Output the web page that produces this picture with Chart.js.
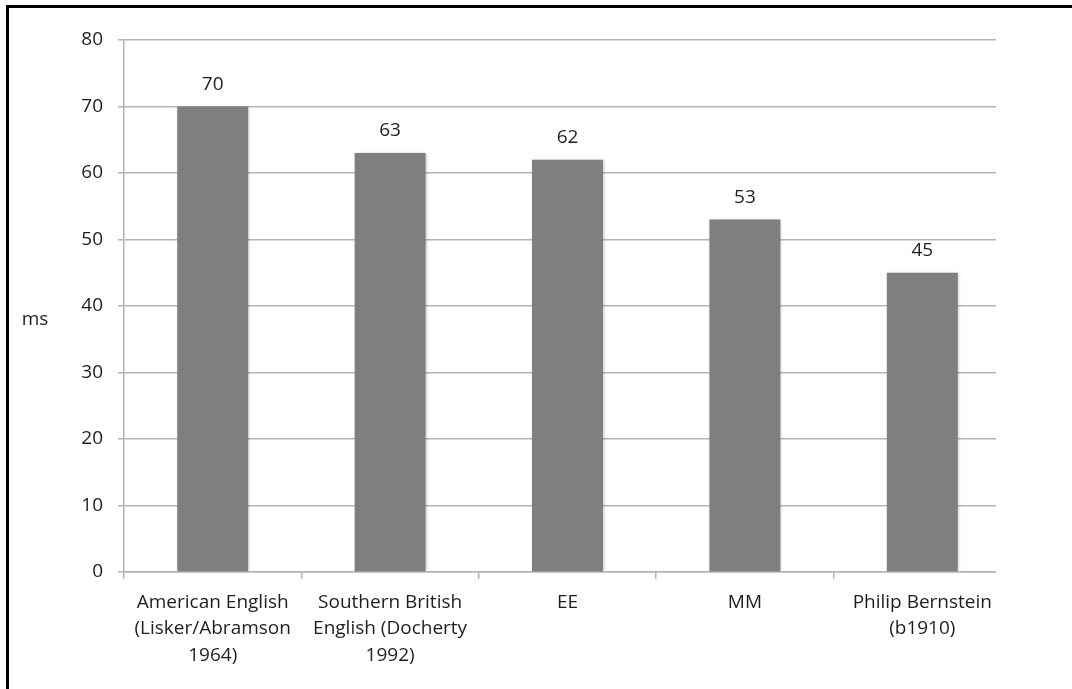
<!DOCTYPE html>
<html>
<head>
<meta charset="utf-8">
<script src="https://cdn.jsdelivr.net/npm/chart.js@4.4.1/dist/chart.umd.min.js"></script>
<style>
  html, body { margin: 0; padding: 0; background: #fff; overflow: hidden; }
  #frame {
    position: absolute; left: 6px; top: 5px; width: 2000px; height: 2000px;
    border-left: 3px solid #000; border-top: 3px solid #000;
  }
  #wrap { position: absolute; left: 0; top: 0; width: 1072px; height: 689px; }
</style>
</head>
<body>
<div id="frame"></div>
<div id="wrap"><canvas id="chart" width="1072" height="689"></canvas></div>
<script>
// chart data
const categories = [
  ['American English', '(Lisker/Abramson', '1964)'],
  ['Southern British', 'English (Docherty', '1992)'],
  ['EE'],
  ['MM'],
  ['Philip Bernstein', '(b1910)']
];
const durations = [70, 63, 62, 53, 45];
const yTicks = [0, 10, 20, 30, 40, 50, 60, 70, 80];

const FONT = "'Open Sans', sans-serif";
const textColor = '#1e1e1e';
const gridColor = '#b4b4b4';

// the original plot lines stop short of the last category edge
const trimRight = {
  id: 'trimRight',
  beforeDatasetsDraw(chart) {
    const a = chart.chartArea;
    const ctx = chart.ctx;
    ctx.save();
    ctx.fillStyle = '#fff';
    ctx.fillRect(996, a.top - 2, a.right - 996 + 4, a.bottom - a.top + 14);
    ctx.restore();
  }
};

// value labels above each bar
const barLabels = {
  id: 'barLabels',
  afterDatasetsDraw(chart) {
    const ctx = chart.ctx;
    const meta = chart.getDatasetMeta(0);
    ctx.save();
    ctx.font = '19px ' + FONT;
    ctx.fillStyle = textColor;
    ctx.textAlign = 'center';
    ctx.textBaseline = 'middle';
    meta.data.forEach((bar, i) => {
      ctx.fillText(String(durations[i]), bar.x, bar.y - 22);
    });
    ctx.restore();
  }
};

// horizontal "ms" axis title on the left
const yTitle = {
  id: 'yTitle',
  afterDraw(chart) {
    const ctx = chart.ctx;
    ctx.save();
    ctx.font = '19px ' + FONT;
    ctx.fillStyle = textColor;
    ctx.textAlign = 'center';
    ctx.textBaseline = 'middle';
    ctx.fillText('ms', 35, 320);
    ctx.restore();
  }
};

// faint shadow round the bars
const barShadow = {
  id: 'barShadow',
  beforeDatasetsDraw(chart) {
    const ctx = chart.ctx;
    ctx.save();
    ctx.shadowColor = 'rgba(0,0,0,0.25)';
    ctx.shadowBlur = 3;
    ctx.shadowOffsetX = 1;
    ctx.shadowOffsetY = 0;
  },
  afterDatasetsDraw(chart) {
    chart.ctx.restore();
  }
};

new Chart(document.getElementById('chart'), {
  type: 'bar',
  data: {
    labels: categories,
    datasets: [{
      data: durations,
      backgroundColor: '#7f7f7f',
      borderWidth: 0,
      categoryPercentage: 1,
      barPercentage: 0.4
    }]
  },
  options: {
    responsive: false,
    animation: false,
    layout: { padding: { top: 40, right: 61, left: 0, bottom: 0 } },
    plugins: {
      legend: { display: false },
      tooltip: { enabled: false }
    },
    scales: {
      x: {
        offset: true,
        grid: {
          offset: true,
          drawOnChartArea: false,
          drawTicks: true,
          tickLength: 7,
          color: gridColor,
          lineWidth: 1.5
        },
        border: { display: true, color: gridColor, width: 1.5 },
        ticks: {
          autoSkip: false,
          maxRotation: 0,
          padding: 10,
          color: textColor,
          font: { family: FONT, size: 19, lineHeight: 1.4 }
        },
        afterFit(scale) { scale.height = 117; }
      },
      y: {
        min: 0,
        max: 80,
        afterBuildTicks(scale) { scale.ticks = yTicks.map(v => ({ value: v })); },
        grid: {
          color: gridColor,
          lineWidth: 1.5,
          tickLength: 6,
          drawTicks: true
        },
        border: { display: true, color: gridColor, width: 1.5 },
        ticks: {
          padding: 15,
          color: textColor,
          font: { family: FONT, size: 19 }
        },
        afterFit(scale) { scale.width = 124; }
      }
    }
  },
  plugins: [trimRight, barShadow, barLabels, yTitle]
});
</script>
</body>
</html>
